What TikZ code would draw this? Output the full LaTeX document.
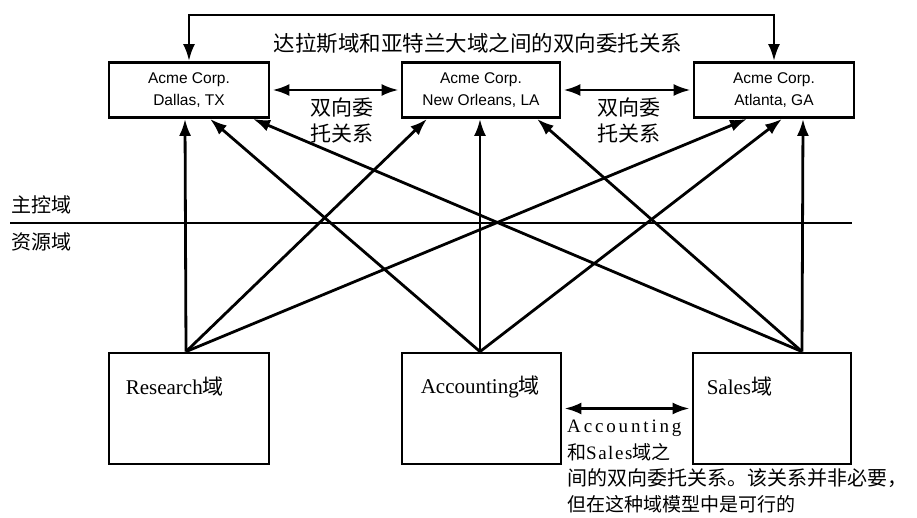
\documentclass[tikz,border=0pt]{standalone}
\usepackage{fontspec}
\setmainfont{Liberation Serif}
\newfontfamily\cjk{Noto Sans CJK SC}
\newfontfamily\arialf{Liberation Sans}
\usetikzlibrary{arrows.meta,calc}
\tikzset{
  topbox/.style={draw,line width=2.8pt,minimum width=160pt,minimum height=55pt,inner sep=0pt,align=center,font=\arialf\fontsize{15.5}{22}\selectfont},
  botbox/.style={draw,line width=2.8pt,minimum width=159pt,minimum height=111pt,inner sep=0pt},
  boxtxt/.style={anchor=west,inner sep=0pt,font=\fontsize{21}{22}\selectfont},
  conn/.style={line width=2.8pt,-{Latex[length=17pt,width=12pt]}},
  dbl/.style={line width=2.8pt,{Latex[length=17pt,width=12pt]}-{Latex[length=17pt,width=12pt]}},
  cjklbl/.style={inner sep=0pt,align=center,font=\cjk\fontsize{21}{26}\selectfont},
  noteline/.style={anchor=base west,inner sep=0pt,font=\fontsize{19}{26}\selectfont}
}
\begin{document}
\begin{tikzpicture}[x=1pt,y=-1pt]
\useasboundingbox (0,0) rectangle (917,518);
% top boxes
\node[topbox] (dallas) at (189,90) {Acme Corp.\\Dallas, TX};
\node[topbox,minimum width=158pt] (neworleans) at (481,90) {Acme Corp.\\New Orleans, LA};
\node[topbox] (atlanta) at (774,90) {Acme Corp.\\Atlanta, GA};
% bottom boxes
\node[botbox,minimum width=160pt] (research) at (189,408.5) {};
\node[botbox] (accounting) at (481.5,408.5) {};
\node[botbox,minimum width=158pt] (sales) at (772,408.5) {};
\node[boxtxt] (researchtxt) at ([xshift=18pt,yshift=-35pt]research.north west) {Research{\cjk 域}};
\node[boxtxt] (accountingtxt) at ([xshift=20pt,yshift=-35pt]accounting.north west) {Accounting{\cjk 域}};
\node[boxtxt] (salestxt) at ([xshift=15pt,yshift=-35pt]sales.north west) {Sales{\cjk 域}};
% domain divider
\coordinate (hl) at (10,223);
\coordinate (hr) at (852,223);
\draw[line width=2.8pt] (hl) -- (hr);
\node[anchor=west,inner sep=0pt,font=\cjk\fontsize{20}{20}\selectfont] (master) at (11,205) {主控域};
\node[anchor=west,inner sep=0pt,font=\cjk\fontsize{20}{20}\selectfont] (resource) at (11,242) {资源域};
% top connector
\coordinate (topbar) at (480,15);
\draw[dbl] (dallas.north) |- (topbar) -| (atlanta.north);
\node[inner sep=0pt,font=\cjk\fontsize{21.5}{22}\selectfont] (title) at (478,43) {达拉斯域和亚特兰大域之间的双向委托关系};
% trusts between top boxes
\draw[dbl,shorten <=2pt,shorten >=2pt] (dallas.east) -- (neworleans.west);
\draw[dbl,shorten <=2pt,shorten >=2pt] (neworleans.east) -- (atlanta.west);
\node[cjklbl] (t1) at (342,120) {双向委\\托关系};
\node[cjklbl] (t2) at (629,120) {双向委\\托关系};
% resource to master connectors
\draw[conn] ([xshift=-3pt]research.north) -- ([xshift=-4pt]dallas.south);
\draw[conn] ([xshift=-3pt]research.north) -- ([xshift=-54pt]neworleans.south);
\draw[conn] ([xshift=-3pt]research.north) -- ([xshift=-27pt]atlanta.south);
\draw[conn] ([xshift=-1.5pt]accounting.north) -- ([xshift=21pt]dallas.south);
\draw[conn] ([xshift=-1.5pt]accounting.north) -- ([xshift=-1pt]neworleans.south);
\draw[conn] ([xshift=-1.5pt]accounting.north) -- ([xshift=8pt]atlanta.south);
\draw[conn] ([xshift=30pt]sales.north) -- ([xshift=64pt]dallas.south);
\draw[conn] ([xshift=30pt]sales.north) -- ([xshift=56pt]neworleans.south);
\draw[conn] ([xshift=30pt]sales.north) -- ([xshift=29pt]atlanta.south);
% accounting-sales trust
\draw[dbl,shorten <=2pt,shorten >=2pt] (accounting.east) -- (sales.west);
\node[noteline] (note1) at (567,432) {\addfontfeature{LetterSpace=15}Accounting};
\node[noteline] (note2) at (567,459) {{\cjk 和}{\addfontfeature{LetterSpace=8}Sales}{\cjk 域之}};
\node[noteline,font=\fontsize{20}{26}\selectfont] (note3) at (567,485) {\cjk 间的双向委托关系。该关系并非必要，};
\node[noteline] (note4) at (567,511) {\cjk 但在这种域模型中是可行的};
\end{tikzpicture}
\end{document}
